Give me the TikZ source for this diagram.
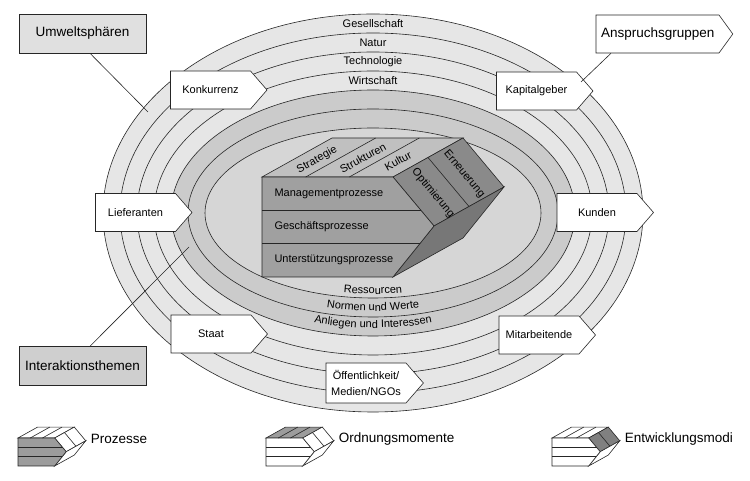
\documentclass[tikz,border=0pt]{standalone}
\usepackage{fontspec}
\setmainfont{Liberation Sans}
\usepackage{xcolor}
\usetikzlibrary{positioning,shapes.symbols,decorations.text}

\definecolor{ringA}{HTML}{E6E6E6}
\definecolor{ringB}{HTML}{CBCBCB}
\definecolor{ringC}{HTML}{D6D6D6}
\definecolor{faceF}{HTML}{A0A0A0}
\definecolor{faceT}{HTML}{C0C0C0}
\definecolor{faceS}{HTML}{8A8A8A}
\definecolor{faceB}{HTML}{777777}
\definecolor{iconG}{HTML}{9C9C9C}

% cube: #1 front, #2 top, #3 side, #4 bottom
\newcommand{\smgcube}[4]{%
  \filldraw [line-a, fill=#2] (0,0) -- (131,0) -- (201,39) -- (70,39) -- cycle;
  \filldraw [line-a, fill=#3] (131,0) -- (172,-49) -- (242,-10) -- (201,39) -- cycle;
  \filldraw [line-a, fill=#4] (172,-49) -- (131,-100) -- (201,-61) -- (242,-10) -- cycle;
  \filldraw [line-a, fill=#1] (0,0) -- (131,0) -- (172,-49) -- (131,-100) -- (0,-100) -- cycle;
  \draw [line-a] (0,-33.3) -- (159,-33.3) (0,-66.7) -- (158,-66.7);
  \draw [line-a] (43.7,0) -- ++(70,39) (87.3,0) -- ++(70,39);
  \draw [line-a] (166,19.5) -- (207,-29.5);
}

\begin{document}
\begin{tikzpicture}
[
x=1pt, y=1pt,
line-a/.style={draw=black!85, line width=0.6pt},
ring-a/.style={line-a, fill=ringA},
ring-b/.style={line-a, fill=ringB},
ring-c/.style={line-a, fill=ringC},
tag-a/.style={signal, signal to=east, signal pointer angle=98, line-a, fill=white,
  text width=70pt, inner xsep=5pt, inner ysep=0pt, minimum height=38pt,
  align=center, font=\fontsize{11}{16}\selectfont},
box-a/.style={rectangle, line-a, minimum width=127pt, minimum height=39pt,
  font=\fontsize{13.5}{16}\selectfont},
text-a/.style={black, font=\fontsize{11}{13}\selectfont},
text-b/.style={black, font=\fontsize{13.5}{16}\selectfont}
]
\useasboundingbox (0,0) rectangle (750,481);

% rings
\coordinate (c) at (373,268);
\foreach \n in {0,...,3}
  \draw [ring-a] (c) ellipse ({270-17*\n} and {199-19*\n});
\foreach \n in {4,5}
  \draw [ring-b] (c) ellipse ({270-17*\n} and {199-19*\n});
\draw [ring-c] (c) ellipse (168 and 85);

\node (ring-1)     [text-a]  at (373,457.5)  {Gesellschaft};
\node (ring-2)     [text-a]  at (373,438.5)  {Natur};
\node (ring-3)     [text-a]  at (373,419.5)  {Technologie};
\node (ring-4)     [text-a]  at (373,400.5)  {Wirtschaft};

\path [decorate, decoration={text along path, text align=center,
  text={|\fontsize{11}{13}\selectfont|Ressourcen}}]
  (c) ++(245:165 and 81) arc (245:295:165 and 81);
\path [decorate, decoration={text along path, text align=center,
  text={|\fontsize{11}{13}\selectfont|Normen und Werte}}]
  (c) ++(235:180 and 98) arc (235:305:180 and 98);
\path [decorate, decoration={text along path, text align=center,
  text={|\fontsize{11}{13}\selectfont|Anliegen und Interessen}}]
  (c) ++(230:195 and 115) arc (230:310:195 and 115);

% cube
\begin{scope}[shift={(262,304)}]
\smgcube{faceF}{faceT}{faceS}{faceB}
\node (row-1)      [text-a, anchor=west]  at (9,-16.7)  {Managementprozesse};
\node (row-2)      [text-a, anchor=west]  at (9,-50)    {Geschäftsprozesse};
\node (row-3)      [text-a, anchor=west]  at (9,-83.3)  {Unterstützungsprozesse};
\node (top-1)      [text-a, rotate=29]    at (55,17)    {Strategie};
\node (top-2)      [text-a, rotate=29]    at (101,19)   {Strukturen};
\node (top-3)      [text-a, rotate=29]    at (136,16)   {Kultur};
\node (side-1)     [text-a, rotate=-50]   at (171,-16)  {Optimierung};
\node (side-2)     [text-a, rotate=-50]   at (202,3)    {Erneuerung};
\end{scope}

% stakeholders
\node (konk)       [tag-a]  at (210.5,391)  {Konkurrenz};
\node (kapi)       [tag-a]  at (536.5,390)  {Kapitalgeber};
\node (lief)       [tag-a]  at (135.5,268.5) {Lieferanten};
\node (kund)       [tag-a]  at (597,268.5)  {Kunden};
\node (staat)      [tag-a]  at (211,147)    {Staat};
\node (mita)       [tag-a]  at (539,146)    {Mitarbeitende};
\node (oeff)       [tag-a, minimum height=40pt]  at (366,98)  {Öffentlichkeit/\\Medien/NGOs};

% legend boxes
\node (umw)        [box-a, fill=black!12]  at (82.5,447.5)  {Umweltsphären};
\node (int)        [box-a, fill=black!19]  at (82.5,115)  {Interaktionsthemen};
\node (ans)        [tag-a, text width=113pt, signal pointer angle=108,
                    font=\fontsize{13.5}{16}\selectfont]  at (657.5,447)  {Anspruchsgruppen};

\coordinate (umw-end) at (148,369);
\coordinate (int-end) at (189,234);
\coordinate (ans-end) at (581,399);
\draw [line-a] ([xshift=7.5pt]umw.south) -- (umw-end);
\draw [line-a] ([xshift=7.5pt]int.north) -- (int-end);
\draw [line-a] ([xshift=-46.5pt]ans.south) -- (ans-end);

% legend
\begin{scope}[shift={(18,43)}, scale=0.28]
\smgcube{iconG}{white}{white}{white}
\end{scope}
\begin{scope}[shift={(266,43)}, scale=0.28]
\smgcube{white}{iconG}{white}{white}
\end{scope}
\begin{scope}[shift={(552,43)}, scale=0.28]
\smgcube{white}{white}{black!50}{white}
\end{scope}
\coordinate (icon-1) at (86,42);
\coordinate (icon-2) at (334,42);
\coordinate (icon-3) at (620,42);
\node (leg-1)      [text-b, right = 0.5mm of icon-1]  {Prozesse};
\node (leg-2)      [text-b, right = 0.5mm of icon-2]  {Ordnungsmomente};
\node (leg-3)      [text-b, right = 0.5mm of icon-3]  {Entwicklungsmodi};
\end{tikzpicture}
\end{document}
